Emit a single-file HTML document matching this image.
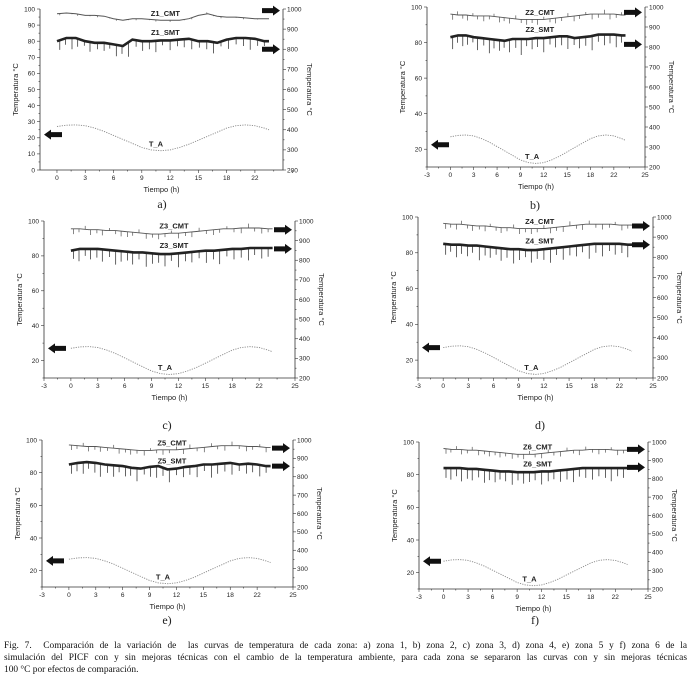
<!DOCTYPE html>
<html><head><meta charset="utf-8">
<style>
html,body{margin:0;padding:0;background:#fff;}
body{width:691px;height:683px;overflow:hidden;position:relative;}
svg{position:absolute;left:0;top:0;}
.cap{position:absolute;left:4px;top:640px;width:683px;font-family:"Liberation Serif",serif;font-size:9.4px;line-height:12px;color:#111;}
.cap div{white-space:nowrap;}
.cap .j{text-align:justify;text-align-last:justify;white-space:normal;}
text{font-family:"Liberation Sans",sans-serif;fill:#222;}
</style></head><body>
<svg id="fig" width="691" height="683"></svg>
<div class="cap">
<div class="j">Fig. 7.&nbsp; Comparación de la variación de&nbsp; las curvas de temperatura de cada zona: a) zona 1, b) zona 2, c) zona 3, d) zona 4, e) zona 5 y f) zona 6 de la</div>
<div class="j">simulación del PICF con y sin mejoras técnicas con el cambio de la temperatura ambiente, para cada zona se separaron las curvas con y sin mejoras técnicas</div>
<div>100 °C por efectos de comparación.</div>
</div>
<script>
// ---- data ----
const hours = [0,1,2,3,4,5,6,7,8,9,10,11,12,13,14,15,16,17,18,19,20,21,22];
const taHours = [0,1,2,3,4,5,6,7,8,9,10,11,12,13,14,15,16,17,18,19,20,21,22,22.5];
const taValues = [27,27.8,28,27.5,26,24,21.5,19,16.5,14,12.5,12,12.5,14,16,18.5,21,23.5,26,27.5,28,27.5,26,25];
const spikeHours = [0.3,0.9,1.6,2.2,2.9,3.5,4.3,5.0,5.6,6.3,6.9,7.6,8.4,9.1,9.8,10.5,11.2,12.0,12.8,13.5,14.3,15.1,15.9,16.6,17.4,18.2,19.0,19.8,20.5,21.3,22.0];
const xTickValues = [-3,0,3,6,9,12,15,18,21,25];
const xTickLabels = ["-3","0","3","6","9","12","15","18","22","25"];
const rightTickLabels = ["200","300","400","500","600","700","800","900","1000"];

const cmtA = [97,97.5,97,96,96,95.5,94,93,94,94,93.5,93,93,93,94,96,97,95.5,95,95,94.5,94,94];
const smtA = [80,82,82,80,79,79,78,77,81,80,80,80.5,80.5,81,81.5,80,80,79,81,82,82,81.5,80];
const cmtB = [96,95.5,95.5,95,95,95,94.5,94,93.5,93,93,93,93,93.5,94,94.5,95,95.5,96,96,96,96,95.5];
const smtB = [83,84,84,83,82.5,82,81.5,81,82,82,82,82.5,82.5,83,83.5,83.5,82.5,83,83.5,84.5,84.5,84.5,84];
const cmtC = [95.5,95.5,95,95,94.5,94.5,94,93.5,93,92.5,92.5,93,93,93.5,94,94.5,95,95.5,95.5,96,96,96,95.5];
const smtC = [83,84,84,84,83.5,83,82.5,82,82,81.5,81,81,81.5,82,82.5,83,83,83.5,84,84,84.5,84.5,84.5];
const cmtD = [96.5,96,96,95.5,95,95,94.5,94,94,93.5,93.5,93.5,93.5,94,94.5,95,95.5,96,96,96,96,95.5,95.5];
const smtD = [85,84.5,84.5,84,84,83.5,83,82.5,82,82,81.5,81.5,82,82.5,83,83.5,84,84.5,85,85,85,85,84.5];
const cmtE = [97,96.5,96,96,95.5,95,94.5,94,93.5,93.5,94,94,94,94.5,95,95.5,96,96.5,96.5,96.5,96,96,95.5];
const smtE = [85,86,86.5,86,85,84.5,84,83,82.5,83.5,84,82,82.5,83.5,84,85,85,85.5,86,85,85.5,85,84];
const cmtF = [96,95.5,95.5,95,95,94.5,94,93.5,93,92.5,92.5,92.5,93,93.5,94,94.5,95,95,95.5,95.5,95.5,95,95];
const smtF = [84,84,84,83.5,83.5,83,82.5,82,82,81.5,81.5,81.5,82,82,82.5,83,83.5,84,84,84,84,84,84];

// spike offsets (relative to curve) at spikeHours
const cmtSpkA = [-1,0,-0.5,-1,0,-0.5,-1,0,-0.5,-1,0,-0.5,-1,0,-0.5,-1,0,-1,0,-0.5,-1,0,1,-0.5,-1,0,-0.5,-1,0,-0.5,0];
const smtSpkA = [-6,-4,-7,-5,-3,-6,-4,-5,-3,-7,-5,-9,-4,-6,-5,-7,-3,-6,-4,-5,-6,-4,-5,-7,-3,-6,-4,-5,-7,-4,-3];
const cmtSpkB = [-3,2,-2,-3,1.5,-2,-3,-2,1.5,-3,-2,-3,2,-2,-3,-2,-3,1.5,-2,-3,-2,2,-3,-2,1.5,-3,-2,2.5,-3,-2,1.5];
const smtSpkB = [-7,-4,-6,-5,-3,-7,-4,-8,-5,-6,-4,-7,-5,-9,-4,-6,-5,-8,-4,-6,-5,-7,-4,-6,-5,-8,-4,-6,-5,-7,-4];
const cmtSpkC = [-3,-2,2,-3,-2,-3,1.5,-2,-3,-3,-2,2,-3,-2,-3,-2,1.5,-3,-2,-3,2,-2,-3,-2,1.5,-2,-3,2.5,-2,-3,-2];
const smtSpkC = [-5,-7,-4,-6,-5,-7,-4,-8,-6,-5,-7,-4,-8,-6,-5,-7,-4,-8,-5,-6,-4,-7,-5,-8,-4,-6,-5,-7,-4,-6,-5];
const cmtSpkD = [-3,-2,-3,2,-2,-3,-2,-3,1.5,-2,-3,-2,2,-3,-2,-3,-2,2,-3,-2,-3,2.5,-2,-3,2,-2,-3,-2,1.5,-3,-2];
const smtSpkD = [-6,-4,-7,-5,-6,-4,-8,-5,-6,-4,-7,-5,-8,-6,-4,-7,-5,-6,-8,-4,-7,-5,-6,-4,-8,-5,-7,-4,-6,-5,-7];
const cmtSpkE = [-3,-2,2,-3,-2,-3,-2,2,-3,-2,-3,-2,-3,1.5,-2,-3,-2,2,-3,2.5,-2,-3,2,-2,-3,2.5,-2,-3,-2,1.5,-3];
const smtSpkE = [-6,-5,-7,-4,-6,-8,-5,-7,-4,-6,-5,-8,-4,-6,-7,-5,-8,-4,-6,-5,-7,-4,-8,-6,-5,-7,-4,-6,-5,-7,-4];
const cmtSpkF = [-3,-2,2,-3,-2,2,-3,-2,-3,-2,-3,-2,-3,-2,-3,2,-2,-3,2,-2,-3,2,-2,-3,2,-2,-3,-2,1.5,-3,-2];
const smtSpkF = [-6,-7,-5,-8,-6,-7,-5,-8,-6,-7,-5,-6,-8,-5,-7,-6,-5,-8,-6,-5,-7,-6,-8,-5,-6,-7,-5,-6,-8,-5,-6];

// ---- drawing ----
const NS = "http://www.w3.org/2000/svg";
const svg = document.getElementById("fig");
function mk(tag, attrs, parent){
  const e = document.createElementNS(NS, tag);
  for (const k in attrs) e.setAttribute(k, attrs[k]);
  (parent||svg).appendChild(e);
  return e;
}
function interp(xs, ys, x){
  if (x <= xs[0]) return ys[0];
  for (let i=1;i<xs.length;i++){ if (x <= xs[i]) { const t=(x-xs[i-1])/(xs[i]-xs[i-1]); return ys[i-1]+t*(ys[i]-ys[i-1]); } }
  return ys[ys.length-1];
}

const panels = [
 {id:"a", zone:"Z1", L:40, R:283, T:9, B:170, xmin:-1.8, xmax:23.98, ymin:0, ymax:100, yStep:10, cmt:cmtA, smt:smtA, cs:cmtSpkA, ss:smtSpkA, arrC:99, arrS:75, arrL:22, letterX:162, letterY:208},
 {id:"b", zone:"Z2", L:427, R:645, T:7, B:167, xmin:-3, xmax:25, ymin:10, ymax:100, yStep:20, cmt:cmtB, smt:smtB, cs:cmtSpkB, ss:smtSpkB, arrC:97, arrS:79, arrL:22.5, letterX:535, letterY:209},
 {id:"c", zone:"Z3", L:44, R:295, T:221, B:378, xmin:-3, xmax:25, ymin:10, ymax:100, yStep:20, cmt:cmtC, smt:smtC, cs:cmtSpkC, ss:smtSpkC, arrC:95, arrS:84, arrL:27, letterX:167, letterY:429},
 {id:"d", zone:"Z4", L:418, R:653, T:217, B:378, xmin:-3, xmax:25, ymin:10, ymax:100, yStep:20, cmt:cmtD, smt:smtD, cs:cmtSpkD, ss:smtSpkD, arrC:95, arrS:84.5, arrL:27, letterX:540, letterY:429},
 {id:"e", zone:"Z5", L:42, R:293, T:440, B:587, xmin:-3, xmax:25, ymin:10, ymax:100, yStep:20, cmt:cmtE, smt:smtE, cs:cmtSpkE, ss:smtSpkE, arrC:95, arrS:84, arrL:26, letterX:167, letterY:624},
 {id:"f", zone:"Z6", L:419, R:648, T:442, B:589, xmin:-3, xmax:25, ymin:10, ymax:100, yStep:20, cmt:cmtF, smt:smtF, cs:cmtSpkF, ss:smtSpkF, arrC:95.5, arrS:84.5, arrL:27, letterX:535, letterY:624}
];

panels.forEach(p => {
  const g = mk("g", {});
  
  
  const sx = v => p.L + (v - p.xmin) / (p.xmax - p.xmin) * (p.R - p.L);
  const sy = v => p.B - (v - p.ymin) / (p.ymax - p.ymin) * (p.B - p.T);
  const rY = v => p.B - (v - 200) / 800 * (p.B - p.T);

  const ax = mk("path", {d:`M${p.L},${p.T}V${p.B}H${p.R}V${p.T}`, fill:"none", stroke:"#333", "stroke-width":0.8}, g);
  
  

  for (let v = p.ymin; v <= p.ymax + 0.01; v += p.yStep/2){
    const isLab = (p.ymin===0) ? (v % 10 === 0) : (v % 20 === 0);
    const y = sy(v);
    mk("line", {x1:p.L-(isLab?3:1.5), x2:p.L, y1:y, y2:y, stroke:"#333", "stroke-width":0.6}, g);
    if (isLab){
      const t = mk("text", {x:p.L-5, y:y+2.3, "font-size":6.5, "text-anchor":"end"}, g);
      t.textContent = String(v);
      
      
    }
  }
  for (let v = 200; v <= 1000; v += 50){
    const y = rY(v);
    const isLab = v % 100 === 0;
    mk("line", {x1:p.R, x2:p.R+(isLab?3:1.5), y1:y, y2:y, stroke:"#333", "stroke-width":0.6}, g);
    if (isLab){
      const t = mk("text", {x:p.R+4, y:y+2.3, "font-size":6.5}, g);
      t.textContent = rightTickLabels[(v-200)/100];
      
      
    }
  }
  xTickValues.forEach((v, i) => {
    if (v < p.xmin - 0.01) return;
    const x = sx(v);
    mk("line", {x1:x, x2:x, y1:p.B, y2:p.B+3, stroke:"#333", "stroke-width":0.6}, g);
    if (i < xTickValues.length-1){
      const xm = sx((v + xTickValues[i+1]) / 2);
      if (xm < p.R) mk("line", {x1:xm, x2:xm, y1:p.B, y2:p.B+1.5, stroke:"#333", "stroke-width":0.6}, g);
    }
    if (p.id === "a" && v === 25) return;
    const t = mk("text", {x:x, y:p.B+10, "font-size":6.5, "text-anchor":"middle"}, g);
    t.textContent = xTickLabels[i];
    
    
  });
  const xt = mk("text", {x:(p.L+p.R)/2, y:p.B+22, "font-size":7.5, "text-anchor":"middle"}, g);
  xt.textContent = "Tiempo (h)";
  
  
  const lyx = p.L - 22, lyy = (p.T + p.B) / 2;
  const yt = mk("text", {x:lyx, y:lyy, "font-size":7.5, "text-anchor":"middle", transform:`rotate(-90 ${lyx} ${lyy})`}, g);
  yt.textContent = "Temperatura °C";
  
  
  const ryx = p.R + 24, ryy = (p.T + p.B) / 2;
  const yt2 = mk("text", {x:ryx, y:ryy, "font-size":7.5, "text-anchor":"middle", transform:`rotate(90 ${ryx} ${ryy})`}, g);
  yt2.textContent = "Temperatura °C";
  
  
  const lt = mk("text", {x:p.letterX, y:p.letterY, "font-size":12, "text-anchor":"middle", style:"font-family:'Liberation Serif',serif"}, g);
  lt.textContent = p.id + ")";
  
  

  const taD = taHours.map((h, i) => (i ? "L" : "M") + sx(h).toFixed(1) + "," + sy(taValues[i]).toFixed(1)).join("");
  const ta = mk("path", {d:taD, fill:"none", stroke:"#888", "stroke-width":0.9, "stroke-dasharray":"1.2,1.2"}, g);
  
  

  function series(base, spk, name, width, color){
    let d = hours.map((h, i) => (i ? "L" : "M") + sx(h).toFixed(1) + "," + sy(base[i]).toFixed(1)).join("");
    d += "L" + sx(22.5).toFixed(1) + "," + sy(base[base.length-1]).toFixed(1);
    const ln = mk("path", {d:d, fill:"none", stroke:color, "stroke-width":width}, g);
    
    
    let sd = "";
    spikeHours.forEach((h, i) => {
      const b = interp(hours, base, h);
      const x = sx(h).toFixed(1);
      sd += `M${x},${sy(b).toFixed(1)}V${sy(b + spk[i]).toFixed(1)}`;
    });
    const sp = mk("path", {d:sd, fill:"none", stroke:color, "stroke-width":0.7}, g);
    
    
  }
  series(p.cmt, p.cs, "cmt", p.id==="a"?1:0.9, "#555");
  series(p.smt, p.ss, "smt", 2.6, "#222");

  const cl = mk("text", {x:sx(11.5), y:sy(interp(hours,p.cmt,11.5)+2.6), "font-size":7.5, "font-weight":"bold", "text-anchor":"middle"}, g);
  cl.textContent = p.zone + "_CMT";
  
  
  const sl = mk("text", {x:sx(11.5), y:sy(interp(hours,p.smt,11.5)+3.4), "font-size":7.5, "font-weight":"bold", "text-anchor":"middle"}, g);
  sl.textContent = p.zone + "_SMT";
  
  
  const tl = mk("text", {x:sx(10.5), y:sy(14.5), "font-size":7.5, "font-weight":"bold", "text-anchor":"middle"}, g);
  tl.textContent = "T_A";
  
  

  function arrowRight(yv){
    const y = sy(yv), x2 = p.R - 3, x1 = x2 - 18;
    const a = mk("path", {d:`M${x1},${y-2.5}H${x2-7}V${y-5}L${x2},${y}L${x2-7},${y+5}V${y+2.5}H${x1}Z`, fill:"#111"}, g);
    
    
  }
  arrowRight(p.arrC);
  arrowRight(p.arrS);
  const yL = sy(p.arrL), x1 = p.L + 4, x2 = x1 + 18;
  const la = mk("path", {d:`M${x2},${yL-2.5}H${x1+7}V${yL-5}L${x1},${yL}L${x1+7},${yL+5}V${yL+2.5}H${x2}Z`, fill:"#111"}, g);
  
  
});
</script>
</body></html>
